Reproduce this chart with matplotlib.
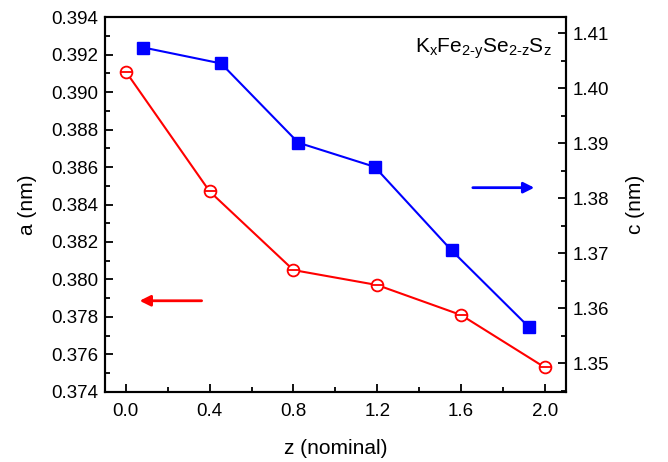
import matplotlib
matplotlib.use("Agg")
import matplotlib.pyplot as plt
from matplotlib.ticker import MultipleLocator, FormatStrFormatter

plt.rcParams['font.family'] = ['Liberation Sans', 'DejaVu Sans']
plt.rcParams['mathtext.fontset'] = 'custom'
plt.rcParams['mathtext.rm'] = 'Liberation Sans'

# lattice parameter a vs nominal z
z_a = [0.0, 0.4, 0.8, 1.2, 1.6, 2.0]
a_nm = [0.3911, 0.3847, 0.3805, 0.3797, 0.3781, 0.3753]

# lattice parameter c (points are slightly offset in z in the original)
z_c = [0.084, 0.455, 0.823, 1.188, 1.555, 1.923]
c_nm = [1.4074, 1.4045, 1.3901, 1.3857, 1.3705, 1.3566]

red = '#ff0000'
blue = '#0000ff'

fig = plt.figure(figsize=(6.68, 4.62), dpi=100)
ax = fig.add_axes([0.157, 0.152, 0.69, 0.8106])
ax2 = ax.twinx()

ax.plot(z_a, a_nm, color=red, lw=1.5, marker='o', ms=8.5,
        mfc='white', mec=red, mew=1.3, zorder=3)
ax.plot(z_a, a_nm, ls='none', marker='_', ms=8.5, mec=red, mew=1.3, zorder=4)
ax2.plot(z_c, c_nm, color=blue, lw=1.5, marker='s', ms=8,
         mfc=blue, mec=blue, zorder=3)

ax.set_xlim(-0.1, 2.1)
ax.set_ylim(0.374, 0.394)
ax2.set_ylim(1.3448, 1.4129)

ax.xaxis.set_major_locator(MultipleLocator(0.4))
ax.xaxis.set_minor_locator(MultipleLocator(0.2))
ax.xaxis.set_major_formatter(FormatStrFormatter('%.1f'))
ax.yaxis.set_major_locator(MultipleLocator(0.002))
ax.yaxis.set_minor_locator(MultipleLocator(0.001))
ax.yaxis.set_major_formatter(FormatStrFormatter('%.3f'))
ax2.yaxis.set_major_locator(MultipleLocator(0.01))
ax2.yaxis.set_minor_locator(MultipleLocator(0.005))
ax2.yaxis.set_major_formatter(FormatStrFormatter('%.2f'))

for a in (ax, ax2):
    a.tick_params(which='both', direction='in', labelsize=13.5, width=1.3,
                  top=False)
    a.tick_params(which='major', length=6)
    a.tick_params(which='minor', length=3.5)
    for s in a.spines.values():
        s.set_linewidth(1.5)
ax.tick_params(axis='x', pad=8)
ax.tick_params(axis='y', pad=5)
ax2.tick_params(axis='y', pad=5)

ax.set_xlabel('z (nominal)', fontsize=15, labelpad=14)
ax.set_ylabel('a (nm)', fontsize=15, labelpad=10)
ax2.set_ylabel('c (nm)', fontsize=15, labelpad=12)

ax.text(0.672, 0.905, r'$\mathregular{K_x Fe_{\text{2-y}} Se_{\text{2-z}} S_z}$',
        transform=ax.transAxes, fontsize=15)

ax.annotate('', xy=(0.0525, 0.37886), xytext=(0.375, 0.37886),
            arrowprops=dict(arrowstyle='-|>', color=red, lw=2,
                            mutation_scale=16))
ax.annotate('', xy=(1.963, 0.3849), xytext=(1.643, 0.3849),
            arrowprops=dict(arrowstyle='-|>', color=blue, lw=2,
                            mutation_scale=16))

fig.savefig('out.png', dpi=100)
